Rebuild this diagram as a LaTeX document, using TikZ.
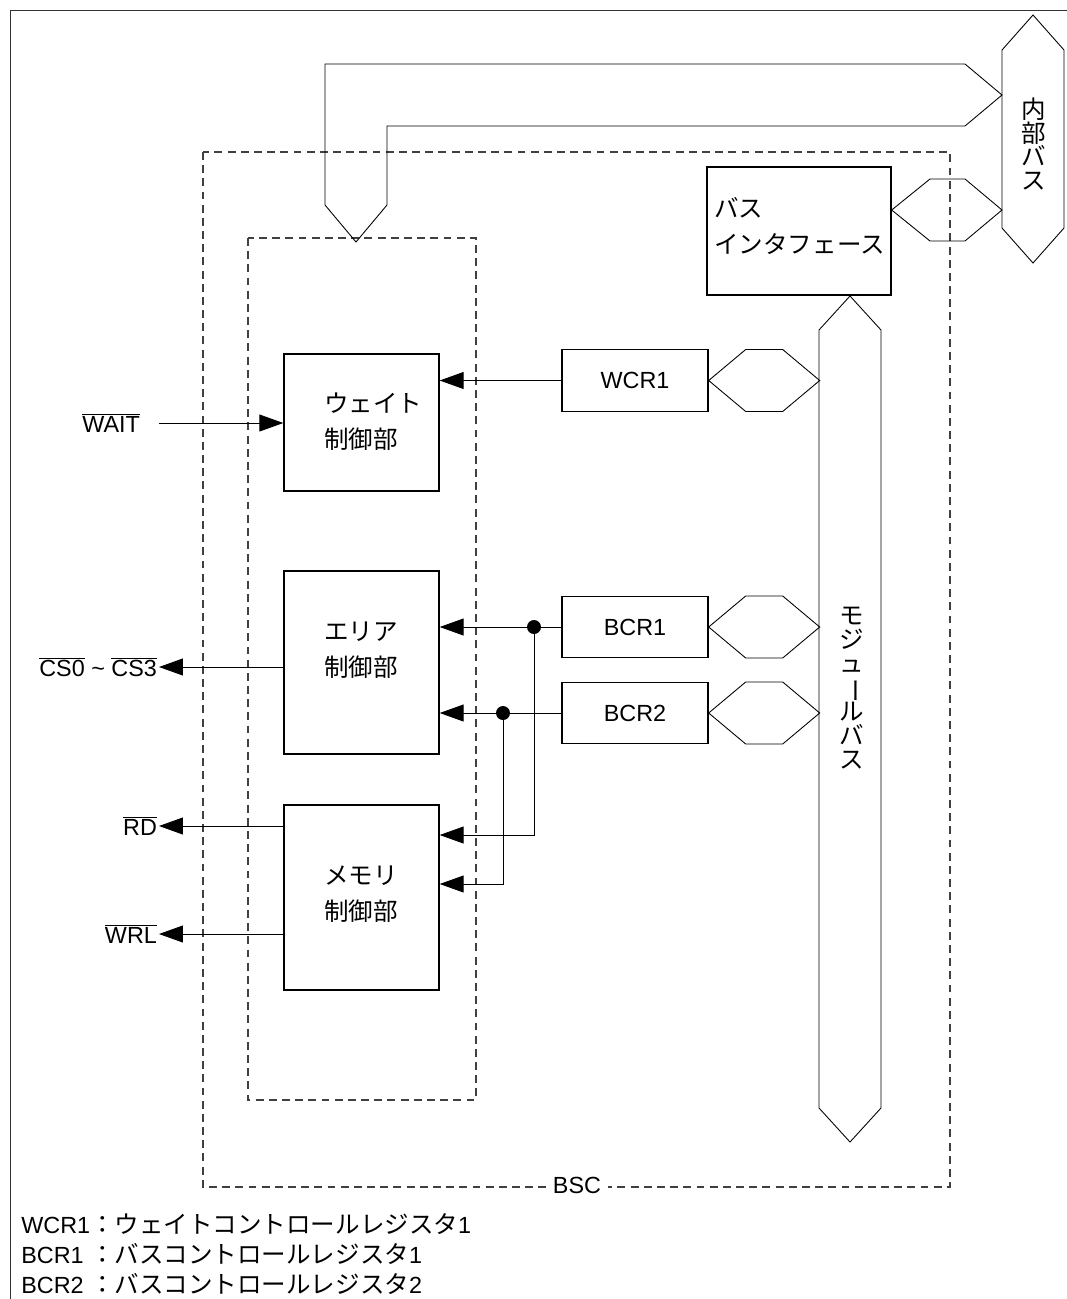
\documentclass[tikz,border=0pt]{standalone}
\usepackage{fontspec}
\setmainfont{Liberation Sans}
\newfontfamily\jp{Noto Sans CJK JP}[Scale=1.05]
\usetikzlibrary{arrows.meta,positioning}
\newcommand{\ovl}[1]{$\overline{\mbox{#1}}$}
\newcommand{\vfont}{\fontsize{13.3}{13.6}\selectfont\lineskiplimit=-10pt\relax\jp}

\begin{document}
\begin{tikzpicture}[
  x=0.02cm, y=-0.02cm,
  >={Triangle[length=0.48cm,width=0.34cm]},
  txt/.style={font=\fontsize{13.3}{16}\selectfont, inner sep=1pt},
  reg/.style={draw, line width=0.8pt, minimum width=2.92cm, minimum height=1.23cm, txt},
  ctl/.style={draw, line width=0.8pt, minimum width=3.1cm},
  lbl/.style={align=left, anchor=west, inner sep=0pt, font=\fontsize{13.3}{20.4}\selectfont\jp},
  vlbl/.style={align=center, inner sep=0pt, font=\vfont},
  bus/.style={line width=0.5pt, line join=miter},
  grp/.style={dash pattern=on 4.5pt off 3pt, color=black!75, line width=0.6pt},
  arr/.style={->, line width=0.5pt},
  sig/.style={txt, anchor=east},
  frame/.style={line width=0.5pt, color=black!80},
]
\useasboundingbox (0,0) rectangle (1067,1299);

% outer frame
\draw[frame] (10,1299) -- (10,10) -- (1067,10);

% BSC and control group
\draw[grp] (203,152) rectangle (950,1187);
\draw[grp] (248,238) rectangle (476,1100);
\node[txt, fill=white, inner sep=4pt] (bsc) at (577,1185) {BSC};

% internal bus
\draw[bus] (1002,50) -- (1033,15) -- (1064,50) -- (1064,228) -- (1033,263) -- (1002,228) -- cycle;
\node[vlbl] (ibustxt) at (1034,144) {内\\部\\バ\\ス};
\draw[bus] (325,205) -- (325,64) -- (965,64) -- (1002,95) -- (965,126) -- (387,126) -- (387,205) -- (356,242) -- cycle;

% bus interface
\node[ctl, minimum width=3.68cm, minimum height=2.56cm] (busif) at (799,231) {};
\node[lbl] (busiftxt) at (714,226) {バス\\インタフェース};
\draw[bus] (busif.east |- 0,210) -- (930,179) -- (965,179) -- (1002,210) -- (965,241) -- (930,241) -- cycle;

% module bus
\draw[bus] (819,330) -- (850,296) -- (881,330) -- (881,1108) -- (850,1142) -- (819,1108) -- cycle;
\node[vlbl] (mbustxt) at (852,688) {モ\\ジ\\ュ\\\rotatebox[origin=c]{-90}{ー}\\ル\\バ\\ス};

% registers
\node[reg] (wcr) at (635,380.5) {WCR1};
\node[reg] (bcr1) at (635,627) {BCR1};
\node[reg] (bcr2) at (635,713) {BCR2};
\foreach \r in {wcr,bcr1,bcr2}
  \draw[bus] (\r.east) -- ++(37,-31) -- ++(37,0) -- ++(37,31) -- ++(-37,31) -- ++(-37,0) -- cycle;

% control blocks
\node[ctl, minimum height=2.74cm] (wait) at (361.5,422.5) {};
\node[ctl, minimum height=3.66cm] (area) at (361.5,662.5) {};
\node[ctl, minimum height=3.7cm] (mem) at (361.5,897.5) {};
\node[lbl] (waittxt) at (324,422) {ウェイト\\制御部};
\node[lbl] (areatxt) at (324,650) {エリア\\制御部};
\node[lbl] (memtxt) at (324,894) {メモリ\\制御部};

% external signals
\node[sig] (waitsig) at (142,423) {\ovl{WAIT}};
\node[sig] (cssig) at (159,667) {\ovl{CS0} \textasciitilde\ \ovl{CS3}};
\node[sig] (rdsig) at (159,826) {\ovl{RD}};
\node[sig] (wrlsig) at (159,934) {\ovl{WRL}};

\draw[arr] ([xshift=0.34cm]waitsig.east) -- (wait.west |- waitsig.east);
\draw[arr] (area.west |- cssig.east) -- (cssig.east);
\draw[arr] (mem.west |- rdsig.east) -- (rdsig.east);
\draw[arr] (mem.west |- wrlsig.east) -- (wrlsig.east);

% register outputs
\coordinate (j1) at (534,627);
\coordinate (j2) at (503,713);
\draw[arr] (wcr.west) -- (wait.east |- wcr.west);
\draw[arr] (bcr1.west) -- (area.east |- bcr1.west);
\draw[arr] (bcr2.west) -- (area.east |- bcr2.west);
\draw[arr] (j1) |- ([yshift=1.25cm]mem.east);
\draw[arr] (j2) |- ([yshift=0.27cm]mem.east);
\fill (j1) circle (0.14cm);
\fill (j2) circle (0.14cm);

% legend
\node[txt, anchor=west, inner sep=0pt] (legend) at (21,1258) {%
  \begin{tabular}{@{}l@{}l@{}}
  WCR1 & {\jp ：ウェイトコントロールレジスタ}1\\[0.8pt]
  BCR1 & {\jp ：バスコントロールレジスタ}1\\[0.8pt]
  BCR2 & {\jp ：バスコントロールレジスタ}2
  \end{tabular}};
\end{tikzpicture}
\end{document}
